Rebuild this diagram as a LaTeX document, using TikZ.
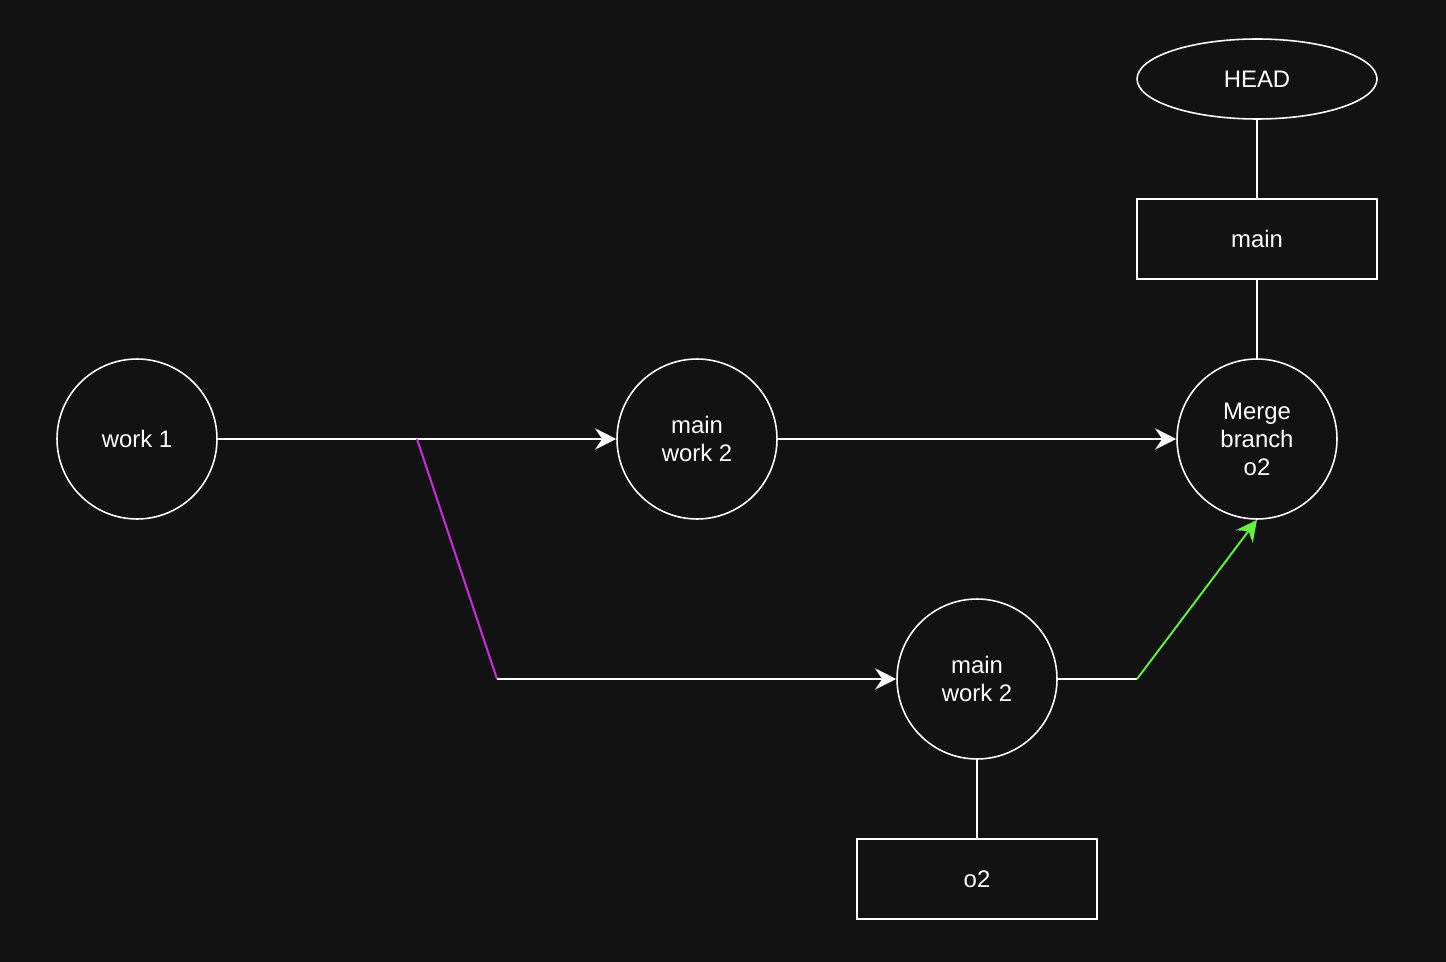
\documentclass[tikz,border=0pt]{standalone}
\usepackage{fontspec}
\setmainfont{Liberation Sans}
\usepackage{xcolor}
\usepackage{tikz}
\usetikzlibrary{shapes.geometric, arrows.meta}
\definecolor{gitBg}{RGB}{18, 18, 18}
\definecolor{gitPink}{RGB}{214, 38, 230}
\definecolor{gitGreen}{RGB}{102, 240, 64}

\begin{document}
\begin{tikzpicture}[
  x=0.02cm, y=-0.02cm,
  commit/.style={
    circle, minimum size=3.2cm, inner sep=0pt,
    draw=white, fill=gitBg, line width=0.9pt,
    align=center, text=white,
    font=\fontsize{13.6}{15.9}\selectfont
  },
  ref/.style={
    rectangle, minimum width=4.8cm, minimum height=1.6cm,
    draw=white, fill=gitBg, line width=0.9pt,
    text=white, font=\fontsize{13.6}{15.9}\selectfont
  },
  pointer/.style={
    ellipse, minimum width=4.8cm, minimum height=1.6cm, inner sep=0pt,
    draw=white, fill=gitBg, line width=0.9pt,
    text=white, font=\fontsize{13.6}{15.9}\selectfont
  },
  link/.style={draw=white, line width=1.1pt},
  >={Stealth[length=12pt, width=12pt, inset=4pt]}
]
\fill[gitBg] (0,0) rectangle (1446,962);
\useasboundingbox (0,0) rectangle (1446,962);

\node[commit] (work1) at (137,439) {work 1};
\node[commit] (mainwork) at (697,439) {main\\work 2};
\node[commit] (merge) at (1257,439) {Merge\\branch\\o2};
\node[commit] (branchwork) at (977,679) {main\\work 2};
\node[pointer] (head) at (1257,79) {HEAD};
\node[ref] (mainref) at (1257,239) {main};
\node[ref] (o2ref) at (977,879) {o2};

\coordinate (split) at (417,439);
\coordinate (bend) at (497,679);
\coordinate (knee) at (1137,679);

\draw[link, ->] (work1) -- (mainwork);
\draw[link, ->] (mainwork) -- (merge);
\draw[link, draw=gitPink] (split) -- (bend);
\draw[link, ->] (bend) -- (branchwork);
\draw[link] (branchwork) -- (knee);
\draw[link, draw=gitGreen, fill=gitGreen, ->] (knee) -- (merge.south);
\draw[link, line width=0.9pt] (head) -- (mainref);
\draw[link, line width=0.9pt] (mainref) -- (merge);
\draw[link, line width=0.9pt] (branchwork) -- (o2ref);
\end{tikzpicture}
\end{document}
